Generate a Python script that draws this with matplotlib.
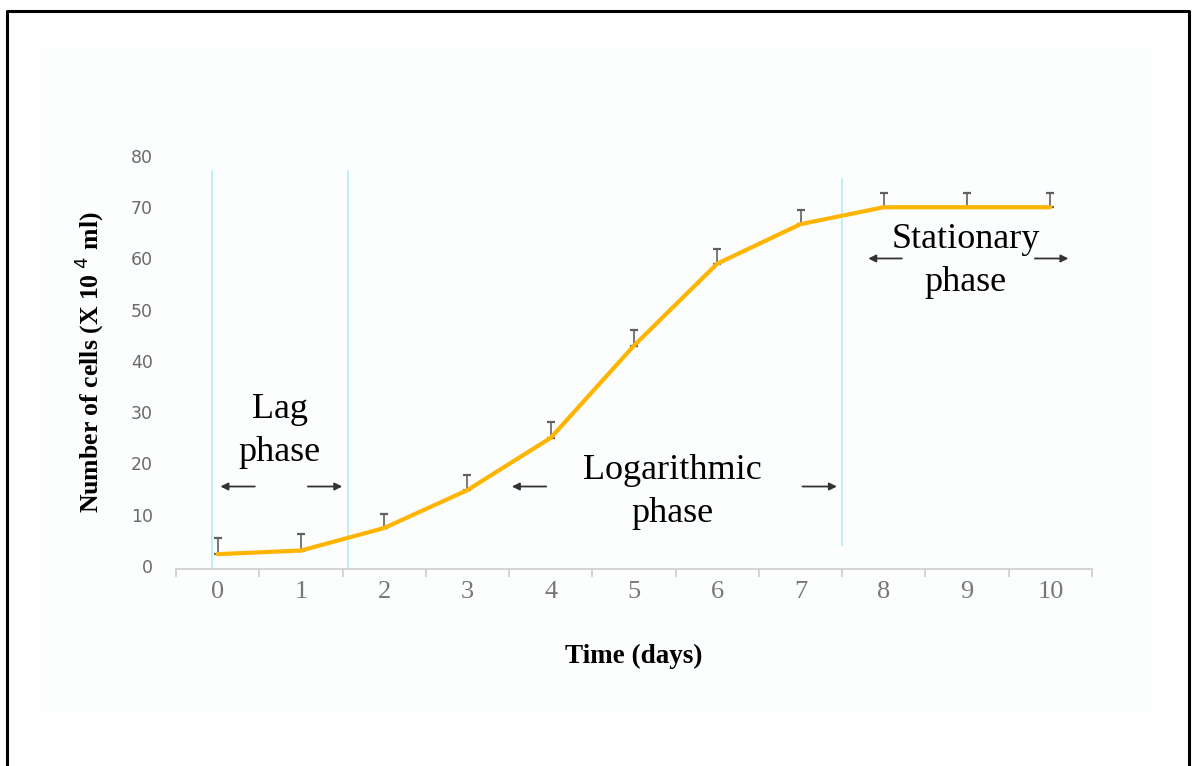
import numpy as np
import matplotlib.pyplot as plt
from matplotlib.patches import Rectangle
from matplotlib.lines import Line2D

# growth curve data
days = [0, 1, 2, 3, 4, 5, 6, 7, 8, 9, 10]
cells = [2.3, 3.0, 7.4, 14.8, 25.0, 43.0, 59.0, 66.7, 70.0, 70.0, 70.0]
err = [3.2, 3.2, 2.8, 3.0, 3.0, 3.0, 2.8, 2.8, 2.8, 2.8, 2.8]
y_ticks = [0, 10, 20, 30, 40, 50, 60, 70, 80]

# phase boundaries (days)
bounds = [-0.07, 1.56, 7.5]

serif = 'Liberation Serif'

fig = plt.figure(figsize=(11.92, 7.66), dpi=100)

# faint background panel and black frame
fig.patches.append(Rectangle((40/1192, 1-712/766), 1110/1192, 664/766,
                             transform=fig.transFigure, color='#fcfdfd', zorder=-5))
frame_x = [7/1192, 7/1192, 1189/1192, 1189/1192]
frame_y = [-0.01, 1-11/766, 1-11/766, -0.01]
fig.lines.append(Line2D(frame_x, frame_y, transform=fig.transFigure,
                        color='black', lw=2.2, zorder=5))

ax = fig.add_axes([176/1192, 1-569/766, (1092-176)/1192, (569-156)/766])
ax.set_facecolor('none')
ax.set_zorder(2)

ax.plot(days, cells, color='#ffb400', lw=3, zorder=3, solid_capstyle='round')
ax.errorbar(days, cells, yerr=[[0]*len(err), err], fmt='none', ecolor='#606060',
            elinewidth=1.2, capsize=3, capthick=1.6, zorder=2)

# phase separators
ax.plot([bounds[0]]*2, [-0.6, 77], color='#b8f0f4', lw=1.3, zorder=1)
ax.plot([bounds[1]]*2, [-0.6, 77], color='#b8f0f4', lw=1.3, zorder=1)
ax.plot([bounds[2]]*2, [4, 75.5], color='#b8f0f4', lw=1.3, zorder=1)

ax.set_xlim(-0.5, 10.5)
ax.set_ylim(-0.6, 80)

for s in ['top', 'right', 'left']:
    ax.spines[s].set_visible(False)
ax.spines['bottom'].set_color('#d0d0d0')
ax.spines['bottom'].set_linewidth(1.3)

ax.set_xticks(np.arange(-0.5, 11, 1))
ax.set_xticklabels([])
ax.set_xticks(days, minor=True)
ax.set_xticklabels([str(d) for d in days], minor=True, family=serif,
                   fontsize=19, color='#777777')
ax.tick_params(axis='x', which='major', length=6, color='#d0d0d0', width=1.3)
ax.tick_params(axis='x', which='minor', length=0, pad=9)

ax.set_yticks(y_ticks)
ax.set_yticklabels([str(v) for v in y_ticks], fontsize=12.5, color='#6a6a6a')
ax.tick_params(axis='y', length=0, pad=16.5)

ax.set_xlabel('Time (days)', family=serif, fontweight='bold', fontsize=19.5,
              labelpad=29)
ax.set_ylabel('Number of cells (X 10$^{\\ 4}$ ml)', family=serif,
              fontweight='bold', fontsize=18.5, labelpad=18)

# phase labels
txt = dict(family=serif, fontsize=26, ha='center', va='center', linespacing=1.4)
ax.text(0.745, 26.3, 'Lag\nphase', **txt)
ax.text(5.46, 14.4, 'Logarithmic\nphase', **txt)
ax.text(8.98, 59.5, 'Stationary\nphase', **txt)

arr = dict(arrowstyle='-|>', color='#333333', lw=1.3, mutation_scale=11)
ay = 15.5
ax.annotate('', xy=(0.0, ay), xytext=(0.48, ay), arrowprops=arr)
ax.annotate('', xy=(1.53, ay), xytext=(1.05, ay), arrowprops=arr)
ax.annotate('', xy=(3.5, ay), xytext=(3.98, ay), arrowprops=arr)
ax.annotate('', xy=(7.47, ay), xytext=(6.99, ay), arrowprops=arr)
sy = 60.0
ax.annotate('', xy=(7.78, sy), xytext=(8.25, sy), arrowprops=arr)
ax.annotate('', xy=(10.25, sy), xytext=(9.78, sy), arrowprops=arr)

fig.savefig('out.png', dpi=100)
